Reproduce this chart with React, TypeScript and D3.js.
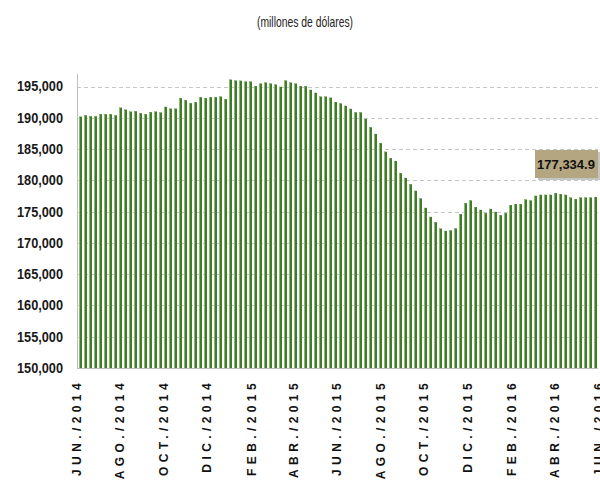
import React from "react";
import * as d3 from "d3";

const startDate = "2014-06-06";
const values: number[] = [
  190190, 190400, 190250, 190250, 190575, 190575, 190575, 190400, 191630, 191315,
  191000, 191050, 190735, 190575, 190900, 191000, 190850, 191750, 191470, 191470,
  193140, 192820, 192340, 192500, 193300, 193140, 193300, 193300, 193400, 192980,
  196100, 195960, 195930, 195800, 195800, 195060, 195480, 195640, 195480, 195320,
  194950, 195960, 195640, 195480, 195060, 195060, 194470, 193990, 193400, 193400,
  193220, 192520, 192300, 191910, 191430, 190870, 190870, 189820, 188490, 187420,
  185950, 184580, 183550, 183090, 181150, 180390, 179380, 178330, 177110, 175600,
  174160, 173310, 172300, 171920, 172000, 172320, 174600, 176360, 176790, 175720,
  175280, 174750, 175440, 174960, 174430, 174750, 176040, 176200, 176200, 176950,
  176790, 177530, 177690, 177690, 177690, 177960, 177800, 177690, 177260, 177000,
  177260, 177260, 177260, 177334.9,
];
const tickLabels = [
  "JUN./2014", "AGO./2014", "OCT./2014", "DIC./2014", "FEB./2015", "ABR./2015",
  "JUN./2015", "AGO./2015", "OCT./2015", "DIC./2015", "FEB./2016", "ABR./2016", "JUN./2016",
];
const tickDates = [
  "2014-06-01", "2014-08-01", "2014-10-01", "2014-12-01", "2015-02-01", "2015-04-01",
  "2015-06-01", "2015-08-01", "2015-10-01", "2015-12-01", "2016-02-01", "2016-04-01", "2016-06-01",
];
const yTicks = [150000, 155000, 160000, 165000, 170000, 175000, 180000, 185000, 190000, 195000];
const title = "(millones de dólares)";
const lastLabel = "177,334.9";

const W = 600, H = 483;
const left = 77, right = 598, top = 74, bottom = 368;

export default function App() {
  const parse = d3.timeParse("%Y-%m-%d");
  const d0 = parse(startDate)!;
  const dates = values.map((_, i) => d3.timeDay.offset(d0, i * 7));
  const x = d3.scaleTime().domain([dates[0], dates[dates.length - 1]]).range([80, 595]);
  const y = d3.scaleLinear().domain([150000, 197000]).range([bottom, top]);
  const fmt = d3.format(",");
  const sans = "'Liberation Sans', Arial, sans-serif";
  return (
    <svg width={W} height={H} style={{ position: "absolute", left: 0, top: 0 }}>
      <rect width={W} height={H} fill="#ffffff" />
      <text x={305} y={27} textAnchor="middle" fontFamily={sans} fontSize={14.5} fill="#222"
        textLength={96} lengthAdjust="spacingAndGlyphs">
        {title}
      </text>
      {yTicks.slice(1).map((t) => (
        <line key={t} x1={left} x2={right} y1={Math.round(y(t)) + 0.5} y2={Math.round(y(t)) + 0.5}
          stroke="#c6c6c6" strokeDasharray="4,3" />
      ))}
      <line x1={left} x2={right} y1={bottom + 0.5} y2={bottom + 0.5} stroke="#bdbdbd" />
      <line x1={left + 0.5} x2={left + 0.5} y1={top} y2={bottom} stroke="#bdbdbd" />
      {yTicks.map((t) => (
        <text key={t} x={63} y={y(t)} dy="0.35em" textAnchor="end" fontFamily={sans}
          fontWeight="bold" fontSize={14} fill="#1a1a1a" textLength={46} lengthAdjust="spacingAndGlyphs">
          {fmt(t)}
        </text>
      ))}
      {values.map((v, i) => {
        const cx = Math.round(x(dates[i]));
        const yt = y(v);
        return (
          <g key={i}>
            <rect x={cx - 1} y={yt} width={3} height={bottom - yt} fill="#417d29" />
            <rect x={cx - 1} y={yt} width={1} height={bottom - yt} fill="#8ab676" />
          </g>
        );
      })}
      {tickLabels.map((lab, i) => {
        const tx = x(parse(tickDates[i])!);
        return (
          <text key={lab} transform={`translate(${tx},379) rotate(-90)`} textAnchor="end" dy="0.35em"
            fontFamily={sans} fontWeight="bold" fontSize={12}
            letterSpacing={4.4} fill="#111">
            {lab}
          </text>
        );
      })}
      <rect x={538} y={152} width={62} height={28} fill="#8c8c8c" opacity={0.5} />
      <rect x={535} y={150} width={63} height={28} fill="#b4a680" />
      <text x={566} y={164} dy="0.35em" textAnchor="middle" fontFamily={sans} fontWeight="bold"
        fontSize={13} fill="#111">
        {lastLabel}
      </text>
    </svg>
  );
}
